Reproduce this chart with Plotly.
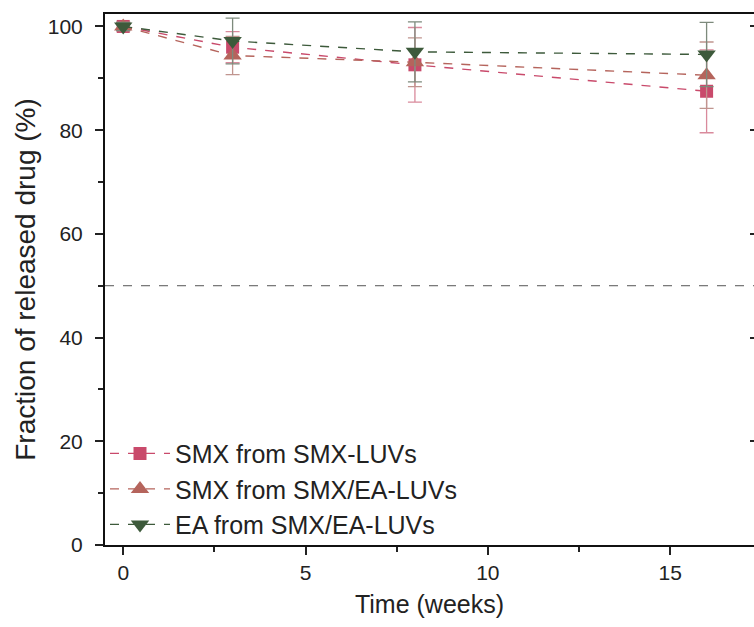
import plotly.graph_objects as go

# Release time points (weeks)
weeks = [0, 3, 8, 16]

# Fraction of drug released (%) and standard deviations
smx_luv = [100.0, 96.0, 92.6, 87.5]
smx_luv_err = [0.8, 3.0, 7.2, 8.0]

smx_ea_luv = [100.0, 94.4, 93.1, 90.6]
smx_ea_luv_err = [0.8, 3.7, 4.7, 6.4]

ea_ea_luv = [100.0, 97.2, 95.1, 94.6]
ea_ea_luv_err = [0.8, 4.4, 5.8, 6.2]

series_names = ["SMX from SMX-LUVs", "SMX from SMX/EA-LUVs", "EA from SMX/EA-LUVs"]
threshold = 50

FONT = "Liberation Sans, Arial, sans-serif"

styles = [
    dict(color="#c94a6b", err="#d98a9c", symbol="square", size=13),
    dict(color="#b5645c", err="#c0958f", symbol="triangle-up", size=16),
    dict(color="#3d5a3b", err="#7d8a7c", symbol="triangle-down", size=16),
]

fig = go.Figure()

for name, y, e, st in zip(series_names,
                          [smx_luv, smx_ea_luv, ea_ea_luv],
                          [smx_luv_err, smx_ea_luv_err, ea_ea_luv_err],
                          styles):
    fig.add_trace(go.Scatter(
        x=weeks, y=y, name=name, mode="lines+markers",
        line=dict(color=st["color"], width=1.4, dash="dash"),
        marker=dict(symbol=st["symbol"], size=st["size"], color=st["color"],
                    line=dict(width=0)),
        error_y=dict(type="data", array=e, visible=True, color=st["err"],
                     thickness=1.3, width=7),
    ))

# 50 % reference line
fig.add_shape(type="line", xref="paper", x0=0, x1=1, yref="y",
              y0=threshold, y1=threshold,
              line=dict(color="#555555", width=1, dash="dash"), layer="below")

# right-hand inner ticks
fig.add_trace(go.Scatter(x=[None], y=[None], yaxis="y2", showlegend=False,
                         hoverinfo="skip"))

fig.update_layout(
    width=754, height=627,
    margin=dict(l=105, r=0, t=14, b=82),
    paper_bgcolor="white", plot_bgcolor="white",
    font=dict(family=FONT, color="#222222"),
    xaxis=dict(
        range=[-0.5, 17.3], tickvals=[0, 5, 10, 15],
        ticks="outside", ticklen=8, tickwidth=1.5, tickcolor="#222222",
        minor=dict(tickvals=[2.5, 7.5, 12.5], ticks="outside", ticklen=5,
                   tickwidth=1.5, tickcolor="#222222"),
        showline=True, linecolor="#111111", linewidth=2, mirror=True,
        showgrid=False, zeroline=False,
        tickfont=dict(size=21, family=FONT),
        title=dict(text="Time (weeks)", font=dict(size=25, family=FONT),
                   standoff=12),
    ),
    yaxis=dict(
        range=[0, 102.4], tickvals=[0, 20, 40, 60, 80, 100],
        ticks="outside", ticklen=8, tickwidth=1.5, tickcolor="#222222",
        minor=dict(tickvals=[10, 30, 50, 70, 90], ticks="outside", ticklen=5,
                   tickwidth=1.5, tickcolor="#222222"),
        showline=True, linecolor="#111111", linewidth=2,
        showgrid=False, zeroline=False,
        tickfont=dict(size=21, family=FONT), ticklabelstandoff=8,
        title=dict(text="Fraction of released drug (%)",
                   font=dict(size=28, family=FONT), standoff=4),
    ),
    yaxis2=dict(
        overlaying="y", side="right", range=[0, 102.4],
        tickvals=[0, 20, 40, 60, 80, 100], showticklabels=False,
        ticks="inside", ticklen=4, tickwidth=1.5, tickcolor="#222222",
        showline=False, showgrid=False, zeroline=False,
    ),
    legend=dict(
        x=0.0, y=-0.005, xanchor="left", yanchor="bottom",
        bgcolor="rgba(0,0,0,0)", font=dict(size=25, family=FONT),
        itemwidth=60, tracegroupgap=0,
    ),
    showlegend=True,
)

fig.write_html("out.html")
